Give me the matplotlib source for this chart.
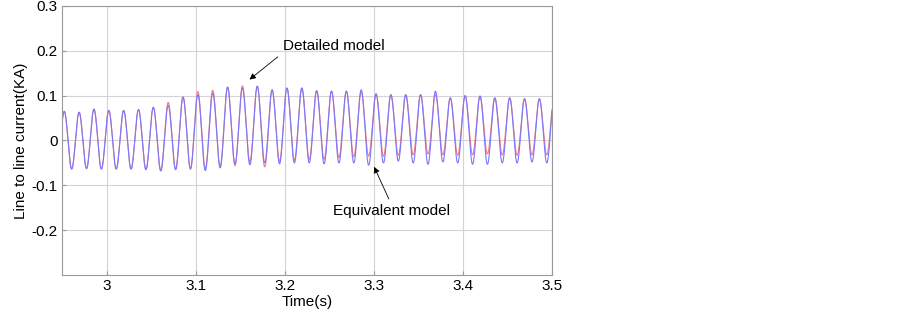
import numpy as np
import matplotlib
matplotlib.use("Agg")
import matplotlib.pyplot as plt

plt.rcParams['font.family'] = ['Liberation Sans', 'DejaVu Sans']
plt.rcParams['axes.unicode_minus'] = False

# 60 Hz waveform, extrema (one peak and the trough before it per cycle)
first_peak = 2.9525
period = 1 / 60

blue_peaks = [0.065, 0.063, 0.070, 0.067, 0.067, 0.069, 0.074, 0.078, 0.097, 0.102, 0.106, 0.119,
              0.117, 0.121, 0.113, 0.117, 0.117, 0.111, 0.110, 0.110, 0.113, 0.104, 0.102, 0.102,
              0.102, 0.110, 0.095, 0.100, 0.099, 0.095, 0.095, 0.093, 0.093, 0.095]
red_peaks = [0.065, 0.063, 0.070, 0.067, 0.067, 0.069, 0.074, 0.085, 0.097, 0.109, 0.112, 0.119,
             0.122, 0.121, 0.113, 0.117, 0.117, 0.111, 0.110, 0.110, 0.108, 0.104, 0.102, 0.102,
             0.102, 0.102, 0.095, 0.100, 0.099, 0.095, 0.095, 0.093, 0.093, 0.095]
blue_troughs = [-0.060, -0.064, -0.063, -0.064, -0.064, -0.064, -0.065, -0.068, -0.065, -0.064,
                -0.067, -0.061, -0.052, -0.054, -0.050, -0.052, -0.050, -0.050, -0.052, -0.050,
                -0.050, -0.055, -0.050, -0.046, -0.050, -0.053, -0.048, -0.050, -0.053, -0.053,
                -0.050, -0.050, -0.048, -0.050]
red_troughs = [-0.060, -0.063, -0.062, -0.063, -0.063, -0.063, -0.064, -0.066, -0.064, -0.062,
               -0.063, -0.058, -0.056, -0.048, -0.059, -0.046, -0.044, -0.042, -0.042, -0.038,
               -0.036, -0.035, -0.035, -0.033, -0.032, -0.030, -0.032, -0.033, -0.032, -0.030,
               -0.032, -0.033, -0.032, -0.032]

xticks = [3, 3.1, 3.2, 3.3, 3.4, 3.5]
xticklabels = ['3', '3.1', '3.2', '3.3', '3.4', '3.5']
yticks = [-0.2, -0.1, 0, 0.1, 0.2, 0.3]
yticklabels = ['-0.2', '-0.1', '0', '0.1', '0.2', '0.3']


def waveform(peaks, troughs, n=20):
    # join trough -> peak -> trough ... with half-cosine segments
    times, vals = [], []
    for k in range(len(peaks)):
        tp = first_peak + k * period
        times += [tp - period / 2, tp]
        vals += [troughs[k], peaks[k]]
    t_out, v_out = [], []
    for i in range(len(times) - 1):
        s = np.linspace(0, 1, n, endpoint=False)
        t_out.append(times[i] + s * (times[i + 1] - times[i]))
        v_out.append(vals[i] + (vals[i + 1] - vals[i]) * (1 - np.cos(np.pi * s)) / 2)
    t_out.append([times[-1]])
    v_out.append([vals[-1]])
    return np.concatenate(t_out), np.concatenate(v_out)


fig = plt.figure(figsize=(9.03, 3.12), dpi=100)
ax = fig.add_axes([0.0687, 0.1186, 0.5426, 0.8622])

t_red, i_red = waveform(red_peaks, red_troughs)
t_blue, i_blue = waveform(blue_peaks, blue_troughs)
ax.plot(t_red, i_red, color='#ff7878', lw=0.8)
ax.plot(t_blue, i_blue, color='#7878ff', lw=0.8)

ax.set_xlim(2.95, 3.5)
ax.set_ylim(-0.3, 0.3)
ax.set_xticks(xticks)
ax.set_xticklabels(xticklabels)
ax.set_yticks(yticks)
ax.set_yticklabels(yticklabels)
ax.grid(True, color='#d4d4d4', lw=0.8)
ax.set_axisbelow(True)
ax.tick_params(direction='in', length=3, color='#999999', labelsize=11, pad=3)
for sp in ax.spines.values():
    sp.set_color('#999999')
    sp.set_linewidth(0.8)

ax.set_xlabel('Time(s)', fontsize=11, labelpad=1)
ax.set_ylabel('Line to line current(KA)', fontsize=11, labelpad=3)

arrow = dict(arrowstyle='-|>', color='black', lw=0.6, mutation_scale=9)
ax.annotate('Detailed model', xy=(3.158, 0.132), xytext=(3.2547, 0.211),
            ha='center', va='center', fontsize=11, arrowprops=dict(arrow, relpos=(0.0, 0.0)))
ax.annotate('Equivalent model', xy=(3.299, -0.053), xytext=(3.3196, -0.158),
            ha='center', va='center', fontsize=11, arrowprops=dict(arrow, relpos=(0.5, 1.0)))

fig.savefig('out.png', dpi=100)
